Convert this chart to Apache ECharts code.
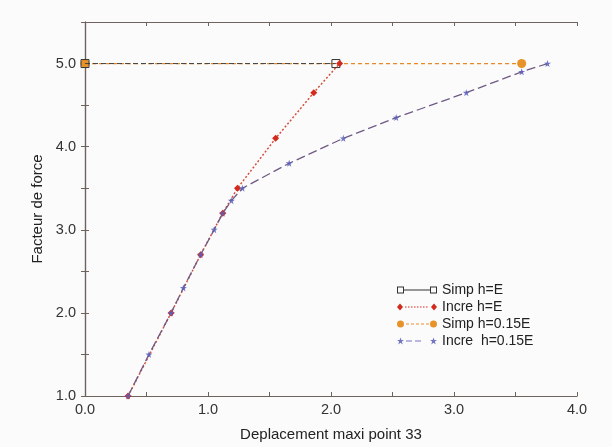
<!DOCTYPE html>
<html>
<head>
<meta charset="utf-8">
<script src="https://cdn.jsdelivr.net/npm/echarts@6/dist/echarts.min.js"></script>
<style>
    html,body{margin:0;padding:0;background:#fbfbfb;}
    #container{width:612px;height:447px;}
</style>
</head>
<body>
<div id="container"></div>
<script>
// donnees
var simpE = [[0, 5.0], [2.04, 5.0]];
var increE = [[0.35, 1.0], [0.70, 2.0], [0.94, 2.7], [1.12, 3.2], [1.24, 3.5], [1.55, 4.1], [1.86, 4.65], [2.07, 5.0]];
var simp015 = [[0, 5.0], [3.55, 5.0]];
var incre015 = [[0.35, 1.0], [0.52, 1.5], [0.70, 2.0], [0.80, 2.3], [0.94, 2.7], [1.05, 3.0], [1.12, 3.2], [1.19, 3.35], [1.28, 3.5],
    [1.66, 3.8], [2.10, 4.1], [2.53, 4.35], [3.10, 4.65], [3.55, 4.9], [3.76, 5.0]];
var names = ['Simp h=E', 'Incre h=E', 'Simp h=0.15E', 'Incre  h=0.15E'];

var star = 'path://M0,-10 L2.5,-3 L10,-3 L4,1.5 L6,9 L0,4.5 L-6,9 L-4,1.5 L-10,-3 L-2.5,-3 Z';
var axisColor = '#6e625c';
var font = 'Liberation Sans, Arial, sans-serif';

// icones de legende : symbole - trait - symbole (40 x 7)
var rects = function (from, to, w, gap) {
    var s = '';
    for (var x = from; x + w <= to; x += w + gap) {
        s += 'M' + x + ',3L' + (x + w) + ',3L' + (x + w) + ',4L' + x + ',4Z';
    }
    return s;
};
var sq = function (x) {
    return 'M' + x + ',0L' + (x + 7) + ',0L' + (x + 7) + ',7L' + x + ',7Z' +
        'M' + (x + 1) + ',1L' + (x + 1) + ',6L' + (x + 6) + ',6L' + (x + 6) + ',1Z';
};
var dia = function (x) {
    return 'M' + (x + 3) + ',0L' + (x + 6) + ',3.5L' + (x + 3) + ',7L' + x + ',3.5Z';
};
var circ = function (x) {
    return 'M' + x + ',3.5A3.5,3.5,0,1,0,' + (x + 7) + ',3.5A3.5,3.5,0,1,0,' + x + ',3.5Z';
};
var st = function (x) {
    var p = [[3.5, 0], [4.4, 2.5], [7, 2.5], [4.9, 4.1], [5.7, 7], [3.5, 5.3], [1.3, 7], [2.1, 4.1], [0, 2.5], [2.6, 2.5]];
    return p.map(function (q, i) { return (i ? 'L' : 'M') + (q[0] + x) + ',' + q[1]; }).join('') + 'Z';
};
var icons = [
    'path://' + sq(0) + 'M7,3L33,3L33,4L7,4Z' + sq(33),
    'path://' + dia(0) + rects(8, 33, 1.5, 1.5) + dia(34),
    'path://' + circ(0) + rects(9, 32, 3, 2) + circ(33),
    'path://' + st(0) + rects(9, 32, 6, 3) + st(33)
];
var legendColors = ['#333', '#d42a1c', '#e8922a', '#5b5fb8'];

// etiquettes seulement sur les valeurs entieres
var fmt = function (v, max) {
    if (Math.abs(v - Math.round(v)) > 1e-6 || v > max) return '';
    return v.toFixed(1);
};

var makeAxis = function (extra) {
    var base = {
        type: 'value', interval: 0.5,
        axisLine: {lineStyle: {color: axisColor, width: 1.2}},
        axisTick: {inside: true, length: 4, lineStyle: {color: axisColor}},
        splitLine: {show: false}
    };
    for (var k in extra) base[k] = extra[k];
    return base;
};

var myChart = echarts.init(document.getElementById('container'));
var option = {
    backgroundColor: '#fbfbfb',
    textStyle: {fontFamily: font},
    grid: {left: 85, right: 35, top: 22, bottom: 51},
    legend: {
        left: 392, top: 278,
        orient: 'vertical',
        itemWidth: 40, itemHeight: 7, itemGap: 3,
        textStyle: {fontSize: 14, color: '#222', fontFamily: font},
        data: names.map(function (n, i) {
            return {name: n, icon: icons[i], itemStyle: {color: legendColors[i], borderWidth: 0}};
        })
    },
    xAxis: [
        makeAxis({
            min: 0, max: 4,
            name: 'Deplacement maxi point 33', nameLocation: 'middle', nameGap: 31,
            nameTextStyle: {fontSize: 15, color: '#222'},
            axisLabel: {formatter: function (v) { return fmt(v, 4); }, fontSize: 14.5, color: '#333', margin: 6}
        }),
        makeAxis({min: 0, max: 4, position: 'top', axisLabel: {show: false}})
    ],
    yAxis: [
        makeAxis({
            min: 1, max: 5.5,
            name: 'Facteur de force', nameLocation: 'middle', nameGap: 36, nameRotate: 90,
            nameTextStyle: {fontSize: 15, color: '#222'},
            axisLabel: {formatter: function (v) { return fmt(v, 5); }, fontSize: 14.5, color: '#333', margin: 9}
        }),
        makeAxis({min: 1, max: 5.5, position: 'right', axisLabel: {show: false}})
    ],
    series: [
        {
            name: names[2], type: 'line', data: simp015, z: 2,
            symbol: 'circle', symbolSize: 9,
            itemStyle: {color: '#e8922a'},
            lineStyle: {color: '#e58a2a', width: 1.2, type: [4, 3]}
        },
        {
            name: names[0], type: 'line', data: simpE, z: 3,
            symbol: 'rect', symbolSize: 8,
            itemStyle: {color: 'rgba(0,0,0,0)', borderColor: '#333', borderWidth: 1},
            lineStyle: {color: '#444', width: 1, type: [5, 3]}
        },
        {
            name: names[1], type: 'line', data: increE, z: 4,
            symbol: 'diamond', symbolSize: 7,
            itemStyle: {color: '#d42a1c'},
            lineStyle: {color: '#d2503a', width: 1.5, type: [2, 2]}
        },
        {
            name: names[3], type: 'line', data: incre015, z: 5,
            symbol: star, symbolSize: 7,
            itemStyle: {color: '#5b5fb8', opacity: 0.85},
            lineStyle: {color: '#6f5a86', width: 1.3, type: [9, 4]}
        }
    ]
};
myChart.setOption(option, true);
</script>
</body>
</html>
